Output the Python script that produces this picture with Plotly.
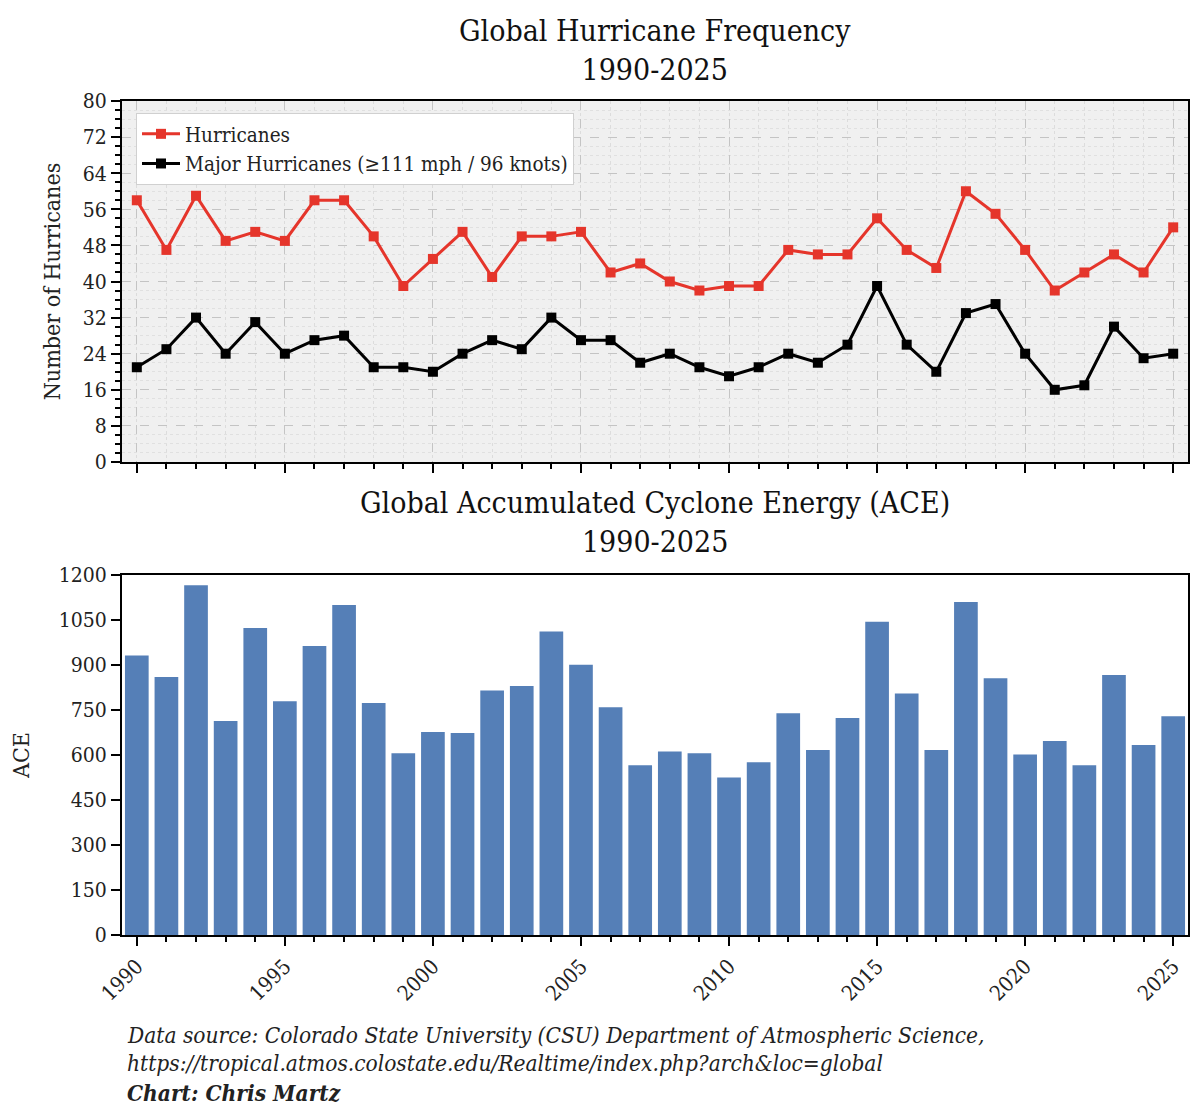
import plotly.graph_objects as go
from plotly.subplots import make_subplots

years = list(range(1990, 2026))

hurricanes = [58, 47, 59, 49, 51, 49, 58, 58, 50, 39,
              45, 51, 41, 50, 50, 51, 42, 44, 40, 38,
              39, 39, 47, 46, 46, 54, 47, 43, 60, 55,
              47, 38, 42, 46, 42, 52]

major_hurricanes = [21, 25, 32, 24, 31, 24, 27, 28, 21, 21,
                    20, 24, 27, 25, 32, 27, 27, 22, 24, 21,
                    19, 21, 24, 22, 26, 39, 26, 20, 33, 35,
                    24, 16, 17, 30, 23, 24]

ace = [932, 860, 1166, 713, 1023, 779, 963, 1100, 773, 606,
       677, 673, 815, 830, 1012, 901, 759, 566, 612, 606,
       525, 576, 739, 617, 723, 1044, 805, 617, 1110, 856,
       602, 647, 566, 867, 633, 729]

year_ticks = [1990, 1995, 2000, 2005, 2010, 2015, 2020, 2025]

FONT = "DejaVu Serif Condensed, Liberation Serif, serif"
RED = "#e5352b"
BLUE = "#557fb7"

# page has an 8px body margin, so the figure is a bit smaller than the window
OFF = 8
W, H = 1200 - 2 * OFF, 1120 - 2 * OFF


def px(x):
    return (x - OFF) / W


def py(y):
    return 1 - (y - OFF) / H


fig = make_subplots(rows=2, cols=1, shared_xaxes=False)

fig.add_trace(go.Scatter(
    x=years, y=hurricanes, name="Hurricanes", mode="lines+markers",
    line=dict(color=RED, width=3),
    marker=dict(symbol="square", size=10, color=RED)), row=1, col=1)

fig.add_trace(go.Scatter(
    x=years, y=major_hurricanes, name="Major Hurricanes (≥111 mph / 96 knots)",
    mode="lines+markers",
    line=dict(color="black", width=3),
    marker=dict(symbol="square", size=10, color="black")), row=1, col=1)

fig.add_trace(go.Bar(
    x=years, y=ace, marker=dict(color=BLUE, line=dict(width=0)),
    width=0.8, showlegend=False), row=2, col=1)

common_x = dict(
    range=[1989.5, 2025.5], tickmode="array", tickvals=year_ticks,
    ticks="outside", ticklen=9, tickwidth=1.5, tickcolor="black",
    showline=True, linecolor="black", linewidth=2, mirror=True,
    zeroline=False, domain=[px(122), px(1188)], automargin=False,
)

fig.update_xaxes(
    **common_x, showticklabels=False,
    showgrid=True, gridcolor="#c4c4c4", griddash="dash", gridwidth=1,
    minor=dict(dtick=1, tick0=1990, ticks="outside", ticklen=5, tickcolor="black",
               showgrid=True, gridcolor="#dcdcdc", griddash="dot", gridwidth=1),
    row=1, col=1)

fig.update_xaxes(
    **common_x, showgrid=False, tickangle=-45,
    tickfont=dict(family=FONT, size=21, color="#222"),
    minor=dict(dtick=1, tick0=1990, ticks="outside", ticklen=5, tickcolor="black",
               showgrid=False),
    row=2, col=1)

fig.update_yaxes(
    range=[0, 80], dtick=8, ticks="outside", ticklen=9, tickwidth=1.5, tickcolor="black",
    showline=True, linecolor="black", linewidth=2, mirror=True, zeroline=False,
    showgrid=True, gridcolor="#c4c4c4", griddash="dash", gridwidth=1,
    minor=dict(dtick=2, ticks="outside", ticklen=5, tickcolor="black",
               showgrid=True, gridcolor="#e0e0e0", griddash="dot", gridwidth=1),
    tickfont=dict(family=FONT, size=21, color="#222"),
    title=dict(text="Number of Hurricanes", font=dict(family=FONT, size=23, color="#222"),
               standoff=16),
    domain=[py(462), py(101)], automargin=False,
    row=1, col=1)

fig.update_yaxes(
    range=[0, 1200], dtick=150, ticks="outside", ticklen=9, tickwidth=1.5, tickcolor="black",
    showline=True, linecolor="black", linewidth=2, mirror=True, zeroline=False,
    showgrid=False,
    tickfont=dict(family=FONT, size=21, color="#222"),
    title=dict(text="ACE", font=dict(family=FONT, size=23, color="#222"), standoff=26),
    domain=[py(935), py(575)], automargin=False,
    row=2, col=1)

fig.update_layout(
    width=W, height=H,
    margin=dict(l=0, r=0, t=0, b=0),
    paper_bgcolor="white",
    plot_bgcolor="white",
    font=dict(family=FONT, color="#222"),
    legend=dict(
        x=px(136), y=py(113), xanchor="left", yanchor="top",
        bgcolor="white", bordercolor="#d0d0d0", borderwidth=1,
        font=dict(family=FONT, size=20.5, color="#222"),
        tracegroupgap=0, itemwidth=38,
    ),
    shapes=[dict(type="rect", xref="x domain", yref="y domain", x0=0, x1=1, y0=0, y1=1,
                 fillcolor="#f0f0f0", line=dict(width=0), layer="below")],
)

title_font = dict(family=FONT, size=30, color="#111")
titles = [
    ("Global Hurricane Frequency<br>1990-2025", 50),
    ("Global Accumulated Cyclone Energy (ACE)<br>1990-2025", 522),
]
for text, ypx in titles:
    fig.add_annotation(text=text, x=px(655), y=py(ypx), xref="paper", yref="paper",
                       xanchor="center", yanchor="middle", showarrow=False,
                       font=title_font)

foot_font = dict(family=FONT, size=22.5, color="#222")
footer = [
    ("<i>Data source: Colorado State University (CSU) Department of Atmospheric Science,</i>", 1035),
    ("<i>https://tropical.atmos.colostate.edu/Realtime/index.php?arch&loc=global</i>", 1063),
    ("<b><i>Chart: Chris Martz</i></b>", 1093),
]
for text, ypx in footer:
    fig.add_annotation(text=text, x=px(125), y=py(ypx), xref="paper", yref="paper",
                       xanchor="left", yanchor="middle", showarrow=False, font=foot_font)

fig.write_html("out.html")
